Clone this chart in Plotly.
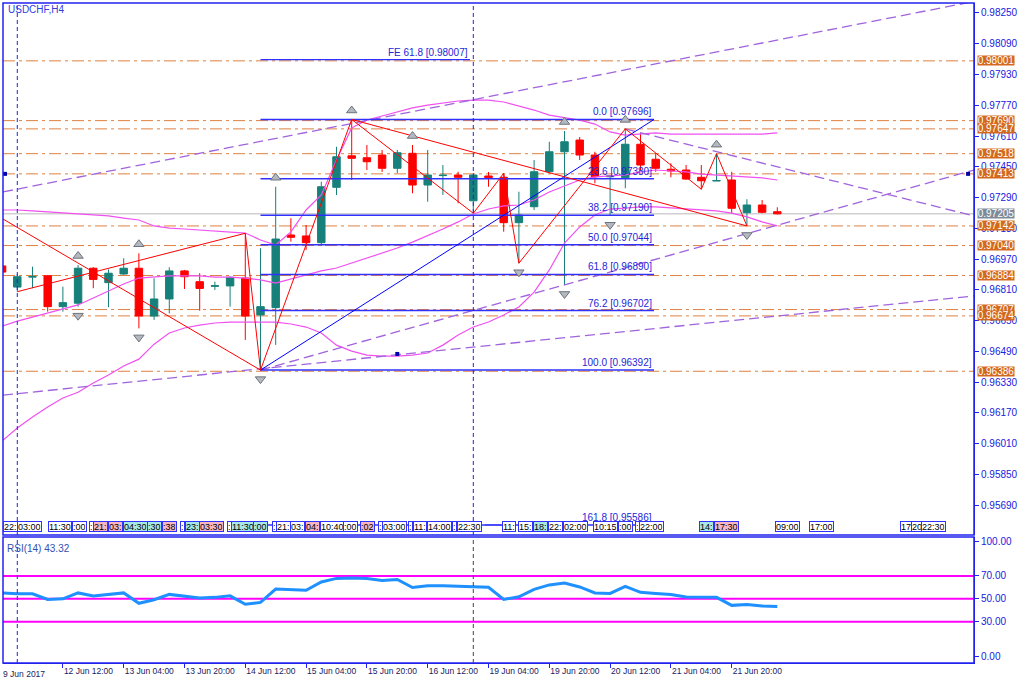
import plotly.graph_objects as go

# ---------------- data ----------------
bars = list(range(-1, 51))  # H4 bar index (0 = 12 Jun 2017 00:00)
opens = [0.96934, 0.96824, 0.96876, 0.96883, 0.96722, 0.96740, 0.96922, 0.96847, 0.96892, 0.96922,
         0.96673, 0.96762, 0.96908, 0.96852, 0.96828, 0.96830, 0.96871, 0.96679, 0.96717, 0.97095,
         0.97090, 0.97055, 0.97343, 0.97507, 0.97497, 0.97511, 0.97442, 0.97520, 0.97355, 0.97404,
         0.97407, 0.97273, 0.97402, 0.97395, 0.97159, 0.97242, 0.97424, 0.97528, 0.97589, 0.97511,
         0.97398, 0.97393, 0.97567, 0.97489, 0.97437, 0.97433, 0.97395, 0.97376, 0.97381, 0.97211,
         0.97251, 0.97216]
highs = [0.96949, 0.96892, 0.96930, 0.96887, 0.96826, 0.96939, 0.96928, 0.96916, 0.96974, 0.97000,
         0.96870, 0.96927, 0.96913, 0.96896, 0.96852, 0.96878, 0.97104, 0.97026, 0.97346, 0.97182,
         0.97147, 0.97372, 0.97554, 0.97696, 0.97563, 0.97537, 0.97537, 0.97563, 0.97537, 0.97459,
         0.97424, 0.97417, 0.97423, 0.97416, 0.97320, 0.97485, 0.97580, 0.97636, 0.97605, 0.97528,
         0.97407, 0.97647, 0.97624, 0.97520, 0.97468, 0.97459, 0.97459, 0.97518, 0.97424, 0.97281,
         0.97277, 0.97239]
lows = [0.96887, 0.96800, 0.96818, 0.96696, 0.96696, 0.96722, 0.96818, 0.96719, 0.96887, 0.96609,
        0.96653, 0.96687, 0.96814, 0.96701, 0.96809, 0.96722, 0.96549, 0.96392, 0.96523, 0.97060,
        0.97017, 0.97038, 0.97303, 0.97381, 0.97433, 0.97423, 0.97417, 0.97312, 0.97268, 0.97303,
        0.97260, 0.97208, 0.97346, 0.97112, 0.96948, 0.97225, 0.97416, 0.96835, 0.97485, 0.97364,
        0.97195, 0.97338, 0.97433, 0.97424, 0.97395, 0.97381, 0.97333, 0.97376, 0.97208, 0.97142,
        0.97208, 0.97202]
closes = [0.96902, 0.96878, 0.96878, 0.96722, 0.96743, 0.96922, 0.96864, 0.96896, 0.96922, 0.96673,
          0.96762, 0.96908, 0.96878, 0.96817, 0.96831, 0.96875, 0.96673, 0.96722, 0.97074, 0.97083,
          0.97055, 0.97346, 0.97502, 0.97494, 0.97476, 0.97442, 0.97523, 0.97355, 0.97407, 0.97406,
          0.97395, 0.97407, 0.97393, 0.97159, 0.97199, 0.97424, 0.97528, 0.97580, 0.97511, 0.97398,
          0.97402, 0.97567, 0.97459, 0.97442, 0.97428, 0.97386, 0.97377, 0.97378, 0.97234, 0.97251,
          0.97213, 0.97205]

band_upper = [0.97225, 0.97225, 0.97220, 0.97215, 0.97209, 0.97204, 0.97199, 0.97194, 0.97183, 0.97173,
              0.97142, 0.97131, 0.97126, 0.97121, 0.97116, 0.97111, 0.97105, 0.97069, 0.97043, 0.97111,
              0.97225, 0.97303, 0.97485, 0.97652, 0.97693, 0.97714, 0.97735, 0.97756, 0.97771, 0.97782,
              0.97792, 0.97797, 0.97797, 0.97787, 0.97766, 0.97745, 0.97719, 0.97704, 0.97693, 0.97672,
              0.97631, 0.97615, 0.97620, 0.97626, 0.97620, 0.97620, 0.97620, 0.97620, 0.97620, 0.97620,
              0.97620, 0.97626]
band_mid = [0.96621, 0.96647, 0.96668, 0.96689, 0.96710, 0.96731, 0.96767, 0.96804, 0.96840, 0.96871,
            0.96876, 0.96882, 0.96882, 0.96882, 0.96876, 0.96876, 0.96871, 0.96861, 0.96845, 0.96866,
            0.96887, 0.96908, 0.96923, 0.96949, 0.96975, 0.97001, 0.97027, 0.97058, 0.97090, 0.97126,
            0.97163, 0.97204, 0.97230, 0.97246, 0.97251, 0.97277, 0.97319, 0.97350, 0.97381, 0.97397,
            0.97402, 0.97407, 0.97423, 0.97433, 0.97428, 0.97423, 0.97412, 0.97407, 0.97402, 0.97397,
            0.97392, 0.97381]
band_lower = [0.96023, 0.96091, 0.96148, 0.96200, 0.96247, 0.96277, 0.96325, 0.96366, 0.96413, 0.96449,
              0.96527, 0.96585, 0.96611, 0.96626, 0.96637, 0.96642, 0.96642, 0.96642, 0.96642, 0.96632,
              0.96616, 0.96585, 0.96522, 0.96491, 0.96470, 0.96465, 0.96465, 0.96470, 0.96481, 0.96522,
              0.96575, 0.96616, 0.96642, 0.96679, 0.96720, 0.96798, 0.96913, 0.97053, 0.97137, 0.97199,
              0.97230, 0.97235, 0.97241, 0.97241, 0.97235, 0.97230, 0.97225, 0.97220, 0.97209, 0.97189,
              0.97163, 0.97142]

rsi = [55.2, 54.4, 54.4, 49.5, 50.0, 55.2, 52.6, 53.9, 55.2, 46.1, 49.2, 53.9, 52.6, 50.8, 51.3, 52.6,
       45.3, 46.9, 58.6, 58.3, 57.5, 64.8, 67.9, 68.2, 67.7, 66.1, 66.9, 59.9, 61.4, 61.4, 60.9, 60.9,
       60.1, 49.5, 51.8, 58.3, 62.2, 63.8, 60.4, 55.2, 54.7, 60.9, 55.7, 54.7, 53.9, 51.6, 51.3, 51.3,
       44.3, 45.1, 43.8, 43.32]
rsi_levels = [30, 50, 70]

first_date_label = "9 Jun 2017"
x_tick_idx = [3, 7, 11, 15, 19, 23, 27, 31, 35, 39, 43, 47]
x_tick_text = ["12 Jun 12:00", "13 Jun 04:00", "13 Jun 20:00", "14 Jun 12:00",
               "15 Jun 04:00", "15 Jun 20:00", "16 Jun 12:00", "19 Jun 04:00", "19 Jun 20:00",
               "20 Jun 12:00", "21 Jun 04:00", "21 Jun 20:00"]
y_tick_vals = [0.98250, 0.98090, 0.97930, 0.97770, 0.97610, 0.97450, 0.97290, 0.97130, 0.96970,
               0.96810, 0.96650, 0.96490, 0.96330, 0.96170, 0.96010, 0.95850, 0.95690]
rsi_tick_vals = [0, 30, 50, 70, 100]

levels = [0.98001, 0.97690, 0.97647, 0.97518, 0.97413, 0.97142, 0.97040, 0.96884, 0.96707, 0.96674, 0.96386]
bid = 0.97205

fib_pct = ["0.0", "23.6", "38.2", "50.0", "61.8", "76.2", "100.0", "161.8"]
fib_text_val = ["0.97696", "0.97380", "0.97190", "0.97044", "0.96890", "0.96702", "0.96392", "0.95586"]
fib_prices = [0.97696, 0.97388, 0.97198, 0.97044, 0.96890, 0.96702, 0.96392, 0.95586]
fib_x = [16, 41.89]
fe_x = [16, 29.78]
fe_price = 0.98007

zz_idx = [0, 15, 16, 22, 30, 32, 33, 40, 45, 46, 48]
zz_val = [0.96800, 0.97104, 0.96392, 0.97696, 0.97208, 0.97416, 0.96948, 0.97647, 0.97333, 0.97518, 0.97142]
red_line1 = ([-0.94, 16], [0.97178, 0.96392])
red_line2 = ([22, 48], [0.97696, 0.97142])
blue_line = ([16, 41.89], [0.96392, 0.97696])
purple_lines = [([-0.94, 62.94], [0.97319, 0.98310]),
                ([40, 62.94], [0.97647, 0.97194]),
                ([16, 62.94], [0.96392, 0.97433]),
                ([-0.94, 62.94], [0.96262, 0.96778])]
anchor_pts = ([-0.81, 62.55, 25], [0.97413, 0.97413, 0.96476])

frac_up_idx = [4, 8, 17, 22, 26, 36, 40, 46]
frac_dn_idx = [4, 8, 16, 33, 36, 39, 48]

ev_pos = [-0.93, -0.04, 2.04, 3.58, 4.74, 5.0, 5.99, 6.97, 8.51, 9.5, 10.7, 11.03, 11.95, 13.78, 14.04,
          15.53, 16.74, 17.02, 17.94, 18.93, 19.91, 21.45, 22.57, 23.75, 23.97, 25.72, 26.01, 26.97,
          28.58, 28.95, 31.87, 32.96, 33.95, 34.93, 35.92, 37.89, 39.54, 40.64, 40.92, 44.87, 45.86,
          49.86, 52.11, 58.07, 58.82, 59.43]
ev_text = ["22:", "03:00", "11:30", ":00", ":", "21:", "03:", "04:30", ":30", ":38", ":", "23:", "03:30",
           ":", "11:30", ":00", ":", "21:", "03:", "04:", "10:40", ":00", ":02", ":", "03:00", ":", "11:",
           "14:00", ":", "22:30", "11:", "15:", "18:", "22:", "02:00", "10:15", ":00", ":", "22:00", "14:",
           "17:30", "09:00", "17:00", "17", "20", "22:30"]
ev_kind = ["w", "w", "w", "w", "w", "p", "p", "c", "c", "p", "w", "c", "p", "w", "c", "c", "w", "w", "w",
           "p", "w", "w", "p", "w", "w", "w", "w", "w", "w", "w", "w", "w", "c", "w", "w", "w", "w", "w",
           "w", "c", "p", "w", "w", "w", "w", "w"]
ev_link = [30.77, 31.87]  # connector between two event boxes

# ---------------- style ----------------
W, H = 1024, 683
X0, X1 = 3 / W, 974 / W
MAIN_DOM = [1 - 535 / H, 1 - 3 / H]
RSI_DOM = [1 - 663 / H, 1 - 537 / H]
XR = [-0.94, 62.94]
YR = [0.95534, 0.98302]
RR = [-6.1, 104.1]
BLUE = "#2222ee"
TEAL = "#17807a"
RED = "#ff0000"
ORANGE = "#d2691e"
LVL = "#e08040"
MAG = "#f050f0"
PURP = "#a064dc"
FONT = "Liberation Sans, Arial, sans-serif"
PX = (YR[1] - YR[0]) / (535 - 3)  # price per pixel
STRIP_Y = 1 - 526.5 / H

fig = go.Figure()

# level lines (below traces)
for lv in levels:
    fig.add_shape(type="line", xref="paper", yref="y", x0=X0, x1=X1, y0=lv, y1=lv,
                  line=dict(color=LVL, width=1, dash="12px,4px,3px,4px"), layer="below")
fig.add_shape(type="line", xref="paper", yref="y", x0=X0, x1=X1, y0=bid, y1=bid,
              line=dict(color="#b8b8b8", width=1), layer="below")

fig.add_trace(go.Candlestick(
    x=bars, open=opens, high=highs, low=lows, close=closes,
    increasing=dict(line=dict(color=TEAL, width=1), fillcolor=TEAL),
    decreasing=dict(line=dict(color=RED, width=1), fillcolor=RED),
    whiskerwidth=0, showlegend=False, hoverinfo="skip", xaxis="x", yaxis="y"))

for band in (band_upper, band_mid, band_lower):
    fig.add_trace(go.Scatter(x=bars, y=band, mode="lines", line=dict(color=MAG, width=1.2),
                             showlegend=False, hoverinfo="skip", xaxis="x", yaxis="y"))

for xs, ys in purple_lines:
    fig.add_trace(go.Scatter(x=xs, y=ys, mode="lines", line=dict(color=PURP, width=1.3, dash="10px,5px"),
                             showlegend=False, hoverinfo="skip", xaxis="x", yaxis="y"))

# fibonacci lines
for fp in fib_prices:
    fig.add_trace(go.Scatter(x=fib_x, y=[fp, fp], mode="lines", line=dict(color="#3030ff", width=1.5),
                             showlegend=False, hoverinfo="skip", xaxis="x", yaxis="y"))
fig.add_trace(go.Scatter(x=fe_x, y=[fe_price, fe_price], mode="lines", line=dict(color="#3030ff", width=1.2),
                         showlegend=False, hoverinfo="skip", xaxis="x", yaxis="y"))

fig.add_trace(go.Scatter(x=blue_line[0], y=blue_line[1], mode="lines", line=dict(color="#0000ff", width=1),
                         showlegend=False, hoverinfo="skip", xaxis="x", yaxis="y"))
for xs, ys in (red_line1, red_line2, (zz_idx, zz_val)):
    fig.add_trace(go.Scatter(x=xs, y=ys, mode="lines", line=dict(color=RED, width=1),
                             showlegend=False, hoverinfo="skip", xaxis="x", yaxis="y"))

# fractals
fig.add_trace(go.Scatter(x=frac_up_idx, y=[highs[i + 1] + 9 * PX for i in frac_up_idx], mode="markers",
                         marker=dict(symbol="triangle-up", size=9, color="#b4b8c0",
                                     line=dict(color="#6e737c", width=1)),
                         showlegend=False, hoverinfo="skip", xaxis="x", yaxis="y"))
fig.add_trace(go.Scatter(x=frac_dn_idx, y=[lows[i + 1] - 9 * PX for i in frac_dn_idx], mode="markers",
                         marker=dict(symbol="triangle-down", size=9, color="#b4b8c0",
                                     line=dict(color="#6e737c", width=1)),
                         showlegend=False, hoverinfo="skip", xaxis="x", yaxis="y"))
fig.add_trace(go.Scatter(x=anchor_pts[0], y=anchor_pts[1], mode="markers",
                         marker=dict(symbol="square", size=4, color="#0000aa"),
                         showlegend=False, hoverinfo="skip", xaxis="x", yaxis="y"))

# RSI
for lv in rsi_levels:
    fig.add_trace(go.Scatter(x=XR, y=[lv, lv], mode="lines", line=dict(color="#ff00ff", width=2),
                             showlegend=False, hoverinfo="skip", xaxis="x", yaxis="y2"))
fig.add_trace(go.Scatter(x=bars, y=rsi, mode="lines", line=dict(color="#1e90ff", width=3),
                         showlegend=False, hoverinfo="skip", xaxis="x", yaxis="y2"))

# vertical separators
for xv, col2 in ((0, "#2222ee"), (30, "#444444")):
    fig.add_shape(type="line", xref="x", yref="paper", x0=xv, x1=xv, y0=MAIN_DOM[0], y1=MAIN_DOM[1],
                  line=dict(color="#2222ee", width=1, dash="4px,3px"))
    fig.add_shape(type="line", xref="x", yref="paper", x0=xv, x1=xv, y0=RSI_DOM[0], y1=RSI_DOM[1],
                  line=dict(color=col2, width=1, dash="4px,3px"))

# connector in event strip
fig.add_shape(type="line", xref="x", yref="paper", x0=ev_link[0], x1=ev_link[1],
              y0=1 - 525 / H, y1=1 - 525 / H, line=dict(color="#3030ff", width=1))

# panel borders
for dom in (MAIN_DOM, RSI_DOM):
    fig.add_shape(type="rect", xref="paper", yref="paper", x0=X0, x1=X1, y0=dom[0], y1=dom[1],
                  line=dict(color=BLUE, width=1.5))

ann = []
# fib labels
for pct, tv, fp in zip(fib_pct, fib_text_val, fib_prices):
    ann.append(dict(x=fib_x[1], y=fp, xref="x", yref="y", text=f"{pct} [{tv}]", showarrow=False,
                    xanchor="right", yanchor="bottom", font=dict(size=10, color="#2525d8", family=FONT)))
ann.append(dict(x=fe_x[1], y=fe_price, xref="x", yref="y", text=f"FE 61.8 [{fe_price:.5f}]", showarrow=False,
                xanchor="right", yanchor="bottom", font=dict(size=10, color="#2525d8", family=FONT)))

# event strip
kind_bg = {"w": "#ffffff", "p": "#f7b6c2", "c": "#a8e8e4"}
for p, t, k in zip(ev_pos, ev_text, ev_kind):
    ann.append(dict(x=p, y=STRIP_Y, xref="x", yref="paper", text=t, showarrow=False,
                    xanchor="left", yanchor="middle", bgcolor=kind_bg[k], bordercolor="#3030ff",
                    borderwidth=1, borderpad=0, height=9,
                    font=dict(size=9, color="#000000", family=FONT)))

# price labels on right axis
for lv in levels:
    ann.append(dict(x=977 / W, y=lv, xref="paper", yref="y", text=f"{lv:.5f}", showarrow=False,
                    xanchor="left", yanchor="middle", bgcolor=ORANGE, width=36, height=9, borderpad=0,
                    font=dict(size=10, color="#ffffff", family=FONT)))
ann.append(dict(x=977 / W, y=bid, xref="paper", yref="y", text=f"{bid:.5f}", showarrow=False,
                xanchor="left", yanchor="middle", bgcolor="#7d8b99", width=36, height=9, borderpad=0,
                font=dict(size=10, color="#ffffff", family=FONT)))

ann.append(dict(x=6 / W, y=1 - 9 / H, xref="paper", yref="paper", text="USDCHF,H4", showarrow=False,
                xanchor="left", yanchor="middle", font=dict(size=10, color="#3040e0", family=FONT)))
ann.append(dict(x=5 / W, y=1 - 548 / H, xref="paper", yref="paper", text=f"RSI(14) {rsi[-1]:.2f}",
                showarrow=False, xanchor="left", yanchor="middle",
                font=dict(size=10, color="#3050b0", family=FONT)))
ann.append(dict(x=1 / W, y=1 - 667 / H, xref="paper", yref="paper", text=first_date_label,
                showarrow=False, xanchor="left", yanchor="top",
                font=dict(size=8.5, color="#1a1a60", family=FONT)))

axis_common = dict(showgrid=False, zeroline=False, showline=True, linecolor=BLUE, linewidth=1,
                   ticks="outside", ticklen=4, tickcolor=BLUE, tickwidth=1,
                   tickfont=dict(size=10, color="#2020e0", family=FONT))

fig.update_layout(
    width=W, height=H, margin=dict(l=0, r=0, t=0, b=0, autoexpand=False),
    paper_bgcolor="#ffffff", plot_bgcolor="#ffffff", showlegend=False,
    xaxis=dict(domain=[X0, X1], range=XR, anchor="y2", showgrid=False, zeroline=False,
               showline=True, linecolor=BLUE, ticks="outside", ticklen=4, tickcolor=BLUE,
               tickvals=x_tick_idx, ticktext=x_tick_text, ticklabelposition="outside right",
               tickfont=dict(size=8.5, color="#1a1a60", family=FONT),
               rangeslider=dict(visible=False)),
    yaxis=dict(domain=MAIN_DOM, range=YR, anchor="x", side="right",
               tickvals=y_tick_vals, ticktext=[f"{v:.5f}" for v in y_tick_vals], **axis_common),
    yaxis2=dict(domain=RSI_DOM, range=RR, anchor="x", side="right",
                tickvals=rsi_tick_vals, ticktext=[f"{v:.2f}" for v in rsi_tick_vals], **axis_common),
    annotations=ann,
)

fig.write_html("out.html", config={"displayModeBar": False},
               post_script="document.body.style.margin='0px';document.body.style.overflow='hidden';")
